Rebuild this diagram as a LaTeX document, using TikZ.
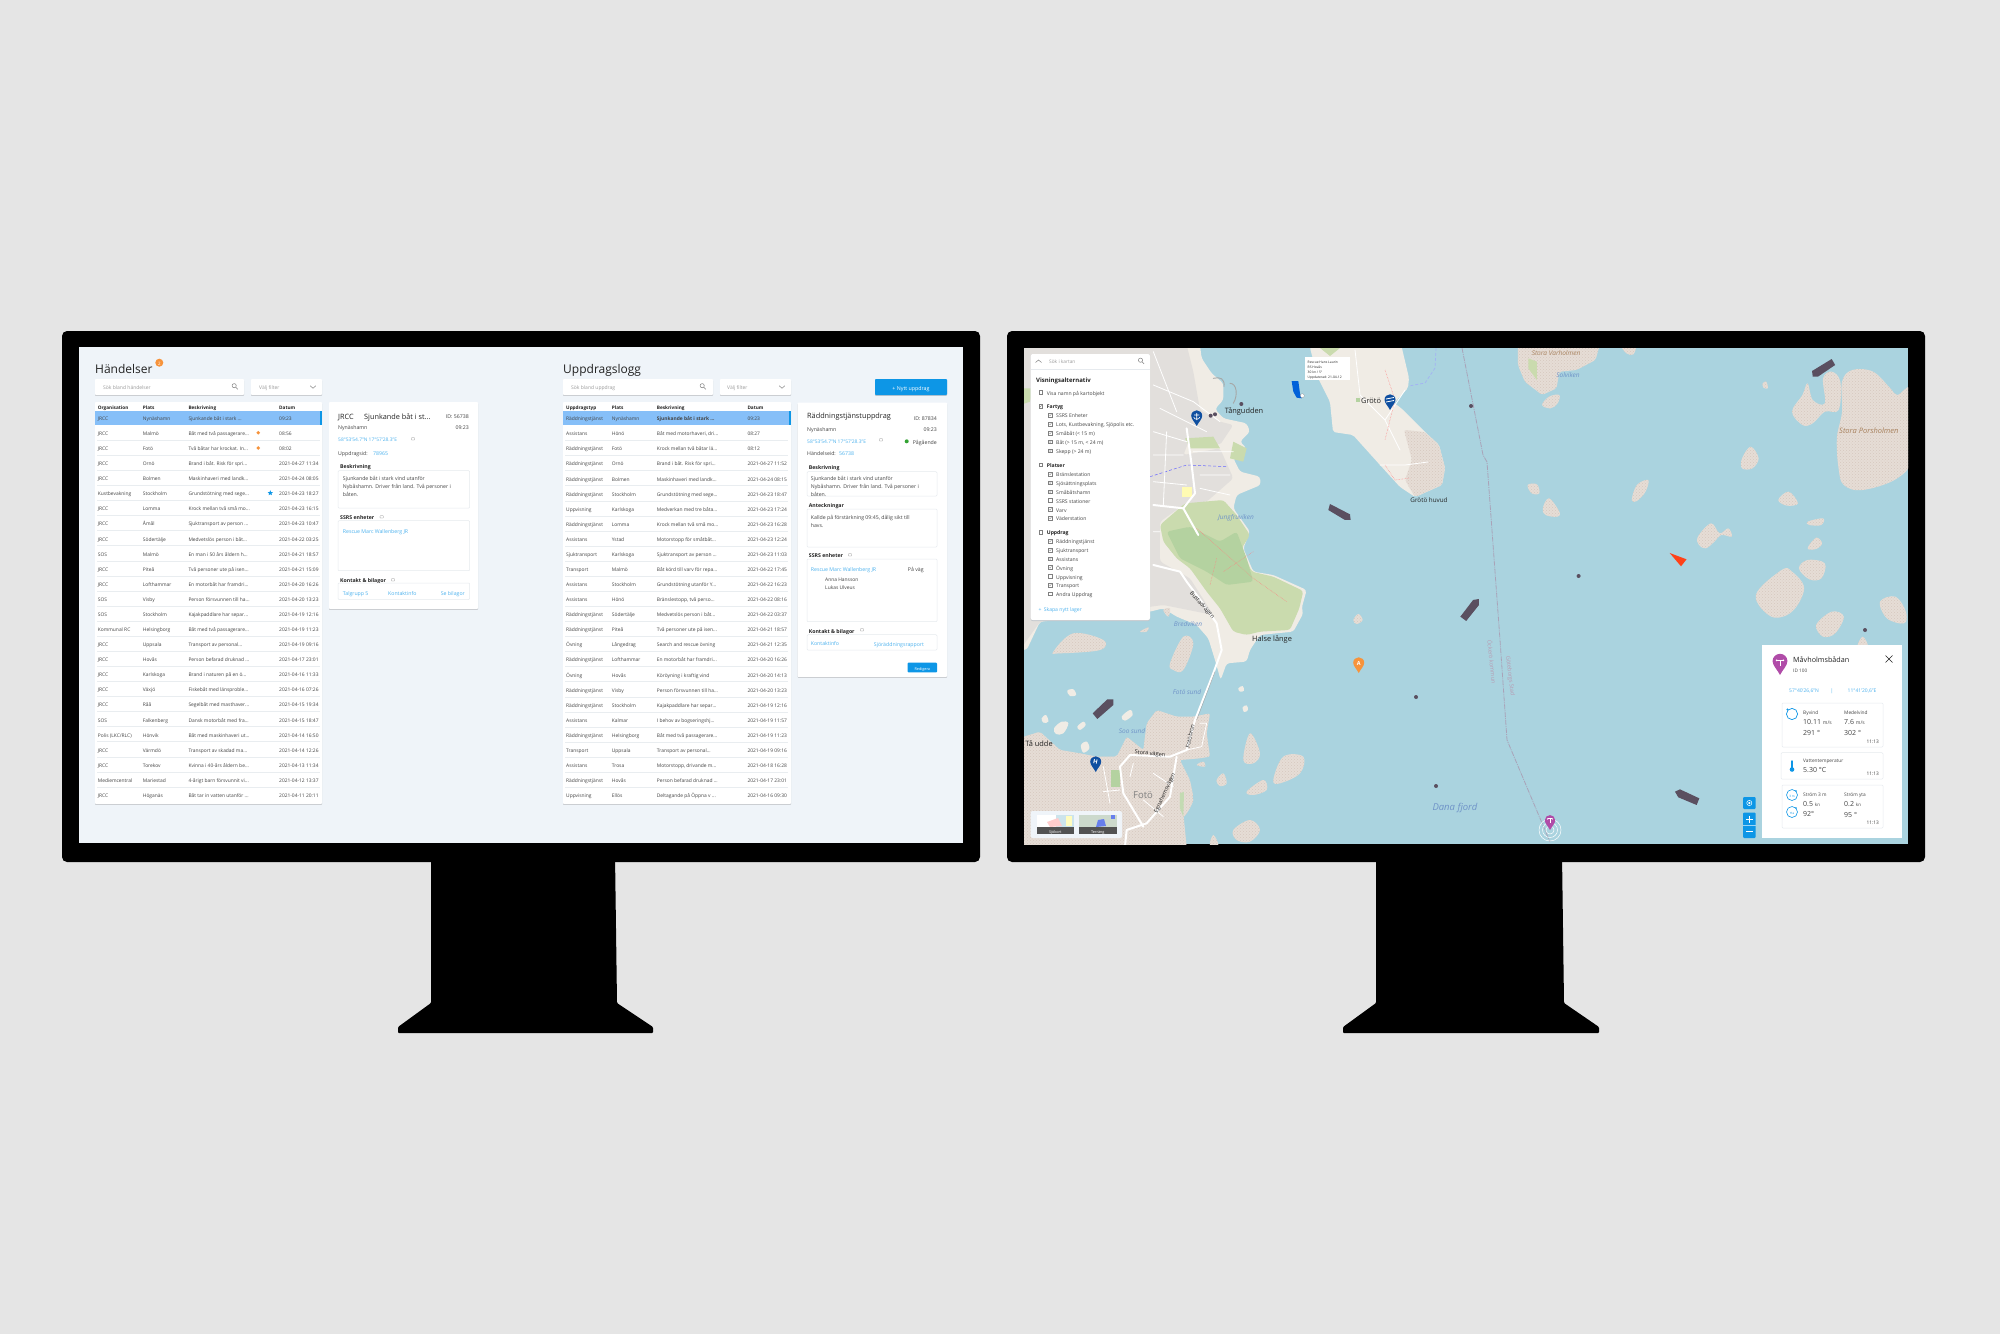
\documentclass[tikz,border=0pt]{standalone}
\usepackage{fontspec}
\setmainfont{Open Sans}
\usetikzlibrary{shapes.geometric,patterns}
\definecolor{pagebg}{HTML}{E5E5E5}
\definecolor{screenbg}{HTML}{EFF4F9}
\definecolor{linkc}{HTML}{4DB2EE}
\definecolor{btn}{HTML}{0D96E6}
\definecolor{sel}{HTML}{86BFF8}
\definecolor{txt}{HTML}{444444}
\definecolor{dark}{HTML}{222222}
\definecolor{hint}{HTML}{9A9A9A}
\definecolor{sepc}{HTML}{E9EDF0}
\definecolor{edgec}{HTML}{E6EAEE}
\definecolor{shadowc}{HTML}{C4C8CC}
\definecolor{water}{HTML}{AAD3DF}
\definecolor{landc}{HTML}{F0ECE5}
\definecolor{urban}{HTML}{E2DFDC}
\definecolor{isle}{HTML}{E6DDD6}
\definecolor{isled}{HTML}{D6C8BE}
\definecolor{forest}{HTML}{CADBAE}
\definecolor{forestb}{HTML}{B4D2A0}
\definecolor{ship}{HTML}{5A4F60}
\definecolor{pinb}{HTML}{0F4FA0}
\definecolor{pinp}{HTML}{B04CA8}
\definecolor{pino}{HTML}{F7933B}
\definecolor{bound}{HTML}{A9A3B8}
\definecolor{boundt}{HTML}{B79BB2}
\definecolor{wname}{HTML}{6F93C8}
\definecolor{bname}{HTML}{A8825E}
\newcommand\fs[1]{\fontsize{#1}{#1}\selectfont}
\tikzset{
  lbl/.style={anchor=west,inner sep=0pt,text=txt,font=\fs{5.2},text height=.72em,text depth=.18em},
  rlbl/.style={lbl,anchor=east},
  clbl/.style={lbl,anchor=center},
  cell/.style={lbl,font=\fs{4.9}},
  head/.style={lbl,font=\bfseries\fs{4.7},text=dark},
  link/.style={text=linkc},
  sect/.style={lbl,font=\bfseries\fs{5.2},text=dark},
  hintt/.style={lbl,text=hint,font=\fs{5}},
  boxc/.style={draw=edgec,line width=.5pt,fill=white,rounded corners=1pt},
  place/.style={inner sep=0pt,text=dark,font=\fs{7.4}},
  wlabel/.style={inner sep=0pt,text=wname,font=\itshape\fs{6.5}},
  road/.style={draw=white,line width=2pt,line cap=round,line join=round},
  minor/.style={draw=white,line width=.8pt,line cap=round,line join=round},
  ck/.style={draw=gray,line width=.3pt},
  speck/.style={pattern=crosshatch dots,pattern color=isled},
}
\newcount\rownr
\newcommand\colA{0}\newcommand\colB{0}\newcommand\colC{0}\newcommand\colD{0}\newcommand\rowy{0}\newcommand\sepL{0}\newcommand\sepR{0}
\newcommand\trow[4]{%
  \pgfmathsetmacro\ry{\rowy+15.08*\the\rownr}%
  \pgfmathsetmacro\rs{\ry+7.5}%
  \ifnum\rownr<25 \ifnum\rownr>0 \draw[sepc,line width=.8pt] (\sepL,\rs) -- (\sepR,\rs);\fi\fi
  \node[cell] at (\colA,\ry) {#1};
  \node[cell] at (\colB,\ry) {#2};
  \node[cell] at (\colC,\ry) {#3};
  \node[cell] at (\colD,\ry) {#4};
  \global\advance\rownr by 1\relax}
\newcommand\card[4]{%
  \fill[shadowc,rounded corners=.8pt] (#1,#2+.9) rectangle (#3,#4+.9);
  \fill[white,rounded corners=.8pt] (#1,#2) rectangle (#3,#4);}
\newcommand\searchicon[2]{%
  \draw[gray,line width=.5pt] (#1-.8,#2-.8) circle (2.1);
  \draw[gray,line width=.6pt] (#1+.8,#2+.8) -- (#1+2.8,#2+2.8);}
\newcommand\chev[2]{\draw[gray,line width=.5pt] (#1-2.8,#2-1.3) -- (#1,#2+1.3) -- (#1+2.8,#2-1.3);}
\newcommand\cmt[2]{\draw[gray,line width=.25pt,rounded corners=.3pt] (#1-1.6,#2-1.2) rectangle (#1+1.6,#2+1);}
\newcommand\cbon[2]{\draw[ck,fill=white] (#1-1.8,#2-1.8) rectangle (#1+1.8,#2+1.8);
  \draw[ck] (#1-1,#2) -- (#1-.2,#2+.9) -- (#1+1.1,#2-1);}
\newcommand\cboff[2]{\draw[ck,fill=white] (#1-1.8,#2-1.8) rectangle (#1+1.8,#2+1.8);}
\newcommand\pinat[4]{\begin{scope}[shift={(#1,#2)},x=#4pt,y=-#4pt]
  \fill[#3] (0,0) .. controls (-2,-4) and (-5.5,-7) .. (-5.5,-10.3) .. controls (-5.5,-13.5) and (-2.8,-15.7) .. (0,-15.7) .. controls (2.8,-15.7) and (5.5,-13.5) .. (5.5,-10.3) .. controls (5.5,-7) and (2,-4) .. (0,0) -- cycle;
  \end{scope}}
\newcommand\tee[3]{\begin{scope}[shift={(#1,#2)},x=#3pt,y=-#3pt]
  \draw[white,line width=.9pt] (-3,-2) -- (3,-2) (0,-2) -- (0,3);
  \fill[white] (-3,-2) circle (.9) (3,-2) circle (.9);\end{scope}}
\newcommand\shipp[1]{\fill[ship,line join=round] #1;}
\newcommand\darkdot[2]{\fill[ship] (#1,#2) circle (2);}
\newcommand\islet[1]{\fill[isle] plot[smooth cycle,tension=.6] coordinates {#1};\fill[speck] plot[smooth cycle,tension=.6] coordinates {#1};}
\newcommand\isleP[1]{\fill[isle,rounded corners=2pt] #1;\fill[speck,rounded corners=2pt] #1;}
\newcommand\pale[1]{\fill[landc] plot[smooth cycle,tension=.6] coordinates {#1};}
\begin{document}
\begin{tikzpicture}[x=1pt,y=-1pt]
\useasboundingbox (0,0) rectangle (2000,1334);
\fill[pagebg] (0,0) rectangle (2000,1334);
% ---- monitors
\fill[black,rounded corners=5pt] (62,331) rectangle (980,862);
\fill[black,rounded corners=1pt] (431,855) -- (615,855) -- (617,1003) -- (653,1027) -- (653,1033) -- (398,1033) -- (398,1027) -- (431,1003) -- cycle;
\fill[black,rounded corners=5pt] (1007,331) rectangle (1925,862);
\fill[black,rounded corners=1pt] (1376,855) -- (1562,855) -- (1564,1003) -- (1599,1027) -- (1599,1033) -- (1343,1033) -- (1343,1027) -- (1376,1003) -- cycle;
% ---- left screen
\fill[screenbg] (79,347) rectangle (963,843);
\node[lbl,font=\fs{12},text=dark] at (95,371) {Händelser};
\fill[pino] (159.3,362.7) circle (4);
\node[clbl,font=\fs{4.5},text=white] at (159.3,362.7) {2};
\card{95}{379}{244}{395}
\node[hintt] at (103,387) {Sök bland händelser};
\searchicon{235}{386.5}
\card{251}{379}{322}{395}
\node[hintt] at (259,387) {Välj filter};
\chev{313}{387}
\card{95}{402}{322}{804}
\fill[sel] (95,411) rectangle (322,425);
\fill[btn] (320,411) rectangle (322,425);
\renewcommand\colA{97.7}\renewcommand\colB{142.7}\renewcommand\colC{188.3}\renewcommand\colD{279}
\renewcommand\rowy{417.7}\renewcommand\sepL{97}\renewcommand\sepR{320}
\node[head] at (97.7,406.3) {Organisation};
\node[head] at (142.7,406.3) {Plats};
\node[head] at (188.3,406.3) {Beskrivning};
\node[head] at (279,406.3) {Datum};
\rownr=0
\trow{JRCC}{Nynäshamn}{Sjunkande båt i stark ...}{09:23}
\trow{JRCC}{Malmö}{Båt med två passagerare...}{08:56}
\trow{JRCC}{Fotö}{Två båtar har krockat. In...}{08:02}
\trow{JRCC}{Ornö}{Brand i båt. Risk för spri...}{2021-04-27 11:34}
\trow{JRCC}{Bolmen}{Maskinhaveri med landk...}{2021-04-24 08:05}
\trow{Kustbevakning}{Stockholm}{Grundstötning med sege...}{2021-04-23 18:27}
\trow{JRCC}{Lomma}{Krock mellan två små mo...}{2021-04-23 16:15}
\trow{JRCC}{Åmål}{Sjuktransport av person ...}{2021-04-23 10:47}
\trow{JRCC}{Södertälje}{Medvetslös person i båt...}{2021-04-22 03:25}
\trow{SOS}{Malmö}{En man i 50 års åldern h...}{2021-04-21 18:57}
\trow{JRCC}{Piteå}{Två personer ute på isen...}{2021-04-21 15:09}
\trow{JRCC}{Lofthammar}{En motorbåt har framdri...}{2021-04-20 16:26}
\trow{SOS}{Visby}{Person försvunnen till ha...}{2021-04-20 13:23}
\trow{SOS}{Stockholm}{Kajakpaddlare har separ...}{2021-04-19 12:16}
\trow{Kommunal RC}{Helsingborg}{Båt med två passagerare...}{2021-04-19 11:23}
\trow{JRCC}{Uppsala}{Transport av personal...}{2021-04-19 09:16}
\trow{JRCC}{Hovås}{Person befarad druknad ...}{2021-04-17 23:01}
\trow{JRCC}{Karlskoga}{Brand i naturen på en ö...}{2021-04-16 11:33}
\trow{JRCC}{Växjö}{Fiskebåt med länsproble...}{2021-04-16 07:26}
\trow{JRCC}{Råå}{Segelbåt med masthaver...}{2021-04-15 19:34}
\trow{SOS}{Falkenberg}{Dansk motorbåt med fra...}{2021-04-15 18:47}
\trow{Polis (LKC/RLC)}{Hönvik}{Båt med maskinhaveri ut...}{2021-04-14 16:50}
\trow{JRCC}{Värmdö}{Transport av skadad ma...}{2021-04-14 12:26}
\trow{JRCC}{Torekov}{Kvinna i 40-års åldern be...}{2021-04-13 11:34}
\trow{Mediemcentral}{Mariestad}{4-årigt barn försvunnit vi...}{2021-04-12 13:37}
\trow{JRCC}{Höganäs}{Båt tar in vatten utanför ...}{2021-04-11 20:11}
\fill[pino] (258.3,432.7) circle (1.9) (258.3,448) circle (1.9);
\node[star,star points=5,star point ratio=2.2,fill=btn,minimum size=5.5pt,inner sep=0pt] at (270.3,493) {};
% left detail card
\card{329}{402}{478}{609}
\node[lbl,font=\fs{7.3},text=dark] at (338,417) {JRCC};
\node[lbl,font=\fs{7.3},text=dark] at (364,417) {Sjunkande båt i st...};
\node[rlbl] at (469,416) {ID: 56738};
\node[lbl] at (338,427) {Nynäshamn};
\node[rlbl] at (469,427) {09:23};
\node[lbl,link,font=\fs{4.9}] at (338,439) {58°53'54.7"N 17°57'28.3"E};
\cmt{413}{439}
\node[lbl] at (338,452.3) {Uppdragsid:};
\node[lbl,link] at (373,452.3) {78965};
\node[sect] at (340,466) {Beskrivning};
\draw[boxc] (338,470.7) rectangle (469.7,508);
\node[lbl] at (342.7,477.5) {Sjunkande båt i stark vind utanför};
\node[lbl] at (342.7,485.5) {Nybåshamn. Driver från land. Två personer i};
\node[lbl] at (342.7,493.5) {båten.};
\node[sect] at (340,517) {SSRS enheter};
\cmt{381.7}{517}
\draw[boxc] (338,520.7) rectangle (469.7,570.7);
\node[lbl,link] at (342.7,530.3) {Rescue Marc Wallenberg JR};
\node[sect] at (340,579.3) {Kontakt \& bilagor};
\cmt{393}{580}
\draw[boxc] (338,583) rectangle (469.7,599.5);
\node[lbl,link] at (342.7,592.3) {Talgrupp 5};
\node[lbl,link] at (388,592.3) {Kontaktinfo};
\node[rlbl,link] at (465,592.3) {Se bilagor};
% ---- middle section
\node[lbl,font=\fs{12},text=dark] at (563,371) {Uppdragslogg};
\card{563}{379}{713}{395}
\node[hintt] at (571,387) {Sök bland uppdrag};
\searchicon{703}{386.5}
\card{720}{379}{791}{395}
\node[hintt] at (727,387) {Välj filter};
\chev{782}{387}
\fill[shadowc,rounded corners=.8pt] (875,379.9) rectangle (947,395.9);
\fill[btn,rounded corners=.8pt] (875,379) rectangle (947,395);
\node[clbl,text=white,font=\fs{5.3}] at (911,387.3) {+ Nytt uppdrag};
\card{563}{402}{791}{804}
\fill[sel] (563,411) rectangle (791,425.3);
\fill[btn] (789,411) rectangle (791,425.3);
\renewcommand\colA{566}\renewcommand\colB{611.7}\renewcommand\colC{656.7}\renewcommand\colD{747.3}
\renewcommand\rowy{418}\renewcommand\sepL{565}\renewcommand\sepR{788}
\node[head] at (566,406.7) {Uppdragstyp};
\node[head] at (611.7,406.7) {Plats};
\node[head] at (656.7,406.7) {Beskrivning};
\node[head] at (747.3,406.7) {Datum};
\rownr=0
\trow{Räddningstjänst}{Nynäshamn}{\bfseries Sjunkande båt i stark ...}{09:23}
\trow{Assistans}{Hönö}{Båt med motorhaveri, dri...}{08:27}
\trow{Räddningstjänst}{Fotö}{Krock mellan två båtar lä...}{08:12}
\trow{Räddningstjänst}{Ornö}{Brand i båt. Risk för spri...}{2021-04-27 11:52}
\trow{Räddningstjänst}{Bolmen}{Maskinhaveri med landk...}{2021-04-24 08:15}
\trow{Räddningstjänst}{Stockholm}{Grundstötning med sege...}{2021-04-23 18:47}
\trow{Uppvisning}{Karlskoga}{Medverkan med tre båta...}{2021-04-23 17:24}
\trow{Räddningstjänst}{Lomma}{Krock mellan två små mo...}{2021-04-23 16:28}
\trow{Assistans}{Ystad}{Motorstopp för småtbåt...}{2021-04-23 12:24}
\trow{Sjuktransport}{Karlskoga}{Sjuktransport av person ...}{2021-04-23 11:03}
\trow{Transport}{Malmö}{Båt körd till varv för repa...}{2021-04-22 17:45}
\trow{Assistans}{Stockholm}{Grundstötning utanför Y...}{2021-04-22 16:23}
\trow{Assistans}{Hönö}{Bränslestopp, två perso...}{2021-04-22 08:16}
\trow{Räddningstjänst}{Södertälje}{Medvetslös person i båt...}{2021-04-22 03:37}
\trow{Räddningstjänst}{Piteå}{Två personer ute på isen...}{2021-04-21 18:57}
\trow{Övning}{Långedrag}{Search and rescue övning}{2021-04-21 12:35}
\trow{Räddningstjänst}{Lofthammar}{En motorbåt har framdri...}{2021-04-20 16:26}
\trow{Övning}{Hovås}{Köröyning i kraftig vind}{2021-04-20 14:13}
\trow{Räddningstjänst}{Visby}{Person försvunnen till ha...}{2021-04-20 13:23}
\trow{Räddningstjänst}{Stockholm}{Kajakpaddlare har separ...}{2021-04-19 12:16}
\trow{Assistans}{Kalmar}{I behov av bogseringshj...}{2021-04-19 11:57}
\trow{Räddningstjänst}{Helsingborg}{Båt med två passagerare...}{2021-04-19 11:23}
\trow{Transport}{Uppsala}{Transport av personal...}{2021-04-19 09:16}
\trow{Assistans}{Trosa}{Motorstopp, drivande m...}{2021-04-18 16:28}
\trow{Räddningstjänst}{Hovås}{Person befarad druknad ...}{2021-04-17 23:01}
\trow{Uppvisning}{Ellös}{Deltagande på Öppna v ...}{2021-04-16 09:30}
% right detail card
\card{797.7}{402.7}{947}{677}
\node[lbl,font=\fs{7.3},text=dark] at (807,416) {Räddningstjänstuppdrag};
\node[rlbl] at (937,417.3) {ID: 87834};
\node[lbl] at (807,429) {Nynäshamn};
\node[rlbl] at (937,429) {09:23};
\node[lbl,link,font=\fs{4.9}] at (807,441) {58°53'54.7"N 17°57'28.3"E};
\cmt{881}{440}
\fill[green!55!black!80] (906.7,441.3) circle (2);
\node[rlbl] at (937,441.5) {Pågående};
\node[lbl] at (807,452.5) {Händelseid:};
\node[lbl,link] at (839,452.5) {56738};
\node[sect] at (808.7,467) {Beskrivning};
\begin{scope}
\draw[boxc] (807,471.7) rectangle (937,496);
\clip (807,471.7) rectangle (937,496);
\node[lbl] at (810.7,478) {Sjunkande båt i stark vind utanför};
\node[lbl] at (810.7,486) {Nybåshamn. Driver från land. Två personer i};
\node[lbl] at (810.7,494) {båten.};
\end{scope}
\node[sect] at (808.7,505) {Anteckningar};
\draw[boxc] (807,509) rectangle (937,547);
\node[lbl] at (810.7,516.3) {Kallde på förstärkning 09:45, dålig sikt till};
\node[lbl] at (810.7,524.3) {havs.};
\node[sect] at (808.7,555) {SSRS enheter};
\cmt{850}{555}
\draw[boxc] (807,559) rectangle (937,621.7);
\node[lbl,link] at (810.7,569) {Rescue Marc Wallenberg JR};
\node[lbl] at (907.7,569) {På väg};
\node[lbl,font=\fs{4.9}] at (825,578.3) {Anna Hansson};
\node[lbl,font=\fs{4.9}] at (825,586.3) {Lukas Ulveus};
\node[sect] at (808.7,630.3) {Kontakt \& bilagor};
\cmt{862}{630}
\draw[boxc] (807,634.7) rectangle (937,650);
\node[lbl,link] at (810.7,642.7) {Kontaktinfo};
\node[lbl,link] at (873.7,643.5) {Sjöräddningsrapport};
\fill[btn,rounded corners=.8pt] (907.7,662.7) rectangle (937,672.3);
\node[clbl,text=white,font=\fs{3.8}] at (922.3,667.5) {Redigera};
% ---- map
\begin{scope}
\clip (1024,348) rectangle (1908,844);
\fill[water] (1024,348) rectangle (1908,844);
% west land, zoom-7 space
\begin{scope}[shift={(1020,345)},x=.3333pt,y=-.3333pt]
\fill[landc,rounded corners=3pt] (0,0) -- (540,0) -- (545,40) -- (575,85) -- (610,115) -- (610,165) -- (585,192) -- (610,220) -- (680,235) -- (690,260) -- (660,290) -- (680,310) -- (640,340) -- (660,380) -- (720,395) -- (722,420) -- (650,450) -- (640,490) -- (690,560) -- (670,610) -- (700,680) -- (760,690) -- (860,735) -- (845,790) -- (850,805) -- (820,860) -- (720,870) -- (690,915) -- (680,950) -- (620,955) -- (602,1005) -- (585,945) -- (565,880) -- (530,840) -- (470,815) -- (430,790) -- (390,800) -- (60,830) -- (20,915) -- (0,915) -- cycle;
\fill[urban,rounded corners=3pt] (0,0) -- (500,0) -- (520,80) -- (540,195) -- (600,230) -- (640,240) -- (600,300) -- (510,280) -- (490,330) -- (600,310) -- (640,400) -- (560,470) -- (490,480) -- (420,530) -- (420,650) -- (510,700) -- (580,810) -- (430,780) -- (60,830) -- (0,915) -- cycle;
\fill[forest,rounded corners=3pt] (420,540) -- (495,475) -- (610,465) -- (650,510) -- (690,570) -- (665,610) -- (695,680) -- (760,695) -- (850,738) -- (838,790) -- (810,855) -- (720,860) -- (680,870) -- (640,860) -- (600,790) -- (560,740) -- (510,670) -- (470,640) -- (430,590) -- cycle;
\fill[forestb,rounded corners=3pt] (440,560) -- (510,545) -- (600,590) -- (650,560) -- (680,640) -- (700,710) -- (620,720) -- (560,680) -- (480,640) -- cycle;
\fill[forest] (495,280) -- (580,275) -- (600,310) -- (510,310) -- cycle;
\fill[forest] (640,290) -- (680,310) -- (670,350) -- (630,340) -- cycle;
\fill[forest] (0,130) -- (40,130) -- (30,170) -- (0,180) -- cycle;
\fill[yellow!30] (485,425) rectangle (515,455);
\fill[urban] (530,340) rectangle (590,365);
\draw[red!50,densely dotted,line width=.5pt] (530,550) -- (610,620) -- (700,700) -- (800,770) (590,640) -- (570,720) (700,620) -- (610,680);
\draw[blue!60,densely dashed,line width=.5pt] (390,395) -- (500,360) -- (620,365);
% roads
\draw[road] (490,490) -- (400,480);
\draw[road] (490,490) -- (525,445) -- (515,360) -- (500,250);
\draw[road] (490,490) -- (535,570);
\draw[road] (400,660) -- (480,680) -- (500,710) -- (545,770) -- (590,835) -- (605,915) -- (580,985);
\draw[minor] (400,120) -- (520,170) -- (600,230) (420,190) -- (560,260) (400,260) -- (500,290) (400,330) -- (490,330) (400,410) -- (500,420) (440,260) -- (430,480) (520,320) -- (640,320) (540,390) -- (630,390) (540,430) -- (630,450) (400,20) -- (470,200) (400,560) -- (420,560);
% Breakwaters
\draw[gray!70,line width=.9pt,line cap=round] (580,100) .. controls (600,95) and (615,100) .. (612,125);
\draw[gray!70,line width=.9pt,line cap=round] (630,115) .. controls (650,115) and (655,150) .. (640,175);
\end{scope}
% Grötö
\fill[landc,rounded corners=2pt] (1310,340) -- (1310,348) -- (1318,378) -- (1330,402) -- (1333,432) -- (1353,435) -- (1380,465) -- (1400,487) -- (1415,497) -- (1442,485) -- (1445,468) -- (1439,445) -- (1425,432) -- (1401,408) -- (1394,403) -- (1408,388) -- (1409,378) -- (1400,340) -- cycle;
\isleP{(1404,430) -- (1425,432) -- (1439,445) -- (1445,468) -- (1442,485) -- (1415,497) -- (1405,480) -- (1412,460) -- cycle}
\draw[minor] (1355,350) -- (1360,395) -- (1385,420) -- (1400,450) (1405,390) -- (1385,420) (1380,465) -- (1405,465) -- (1428,462);
\draw[red!50,densely dotted,line width=.5pt] (1385,370) -- (1395,400) -- (1385,440) (1385,465) -- (1395,480) -- (1410,478);
\fill[forestb] (1356,398) rectangle (1360,402);
\fill[forest] (1320,348) -- (1340,348) -- (1330,356) -- cycle;
% islands east, zoom-10 space
\begin{scope}[shift={(1380,345)},x=.3448pt,y=-.3333pt]
\isleP{(400,-10) -- (640,-10) -- (625,45) -- (570,75) -- (520,80) -- (512,130) -- (470,150) -- (420,110) -- (400,60) -- cycle}
\fill[forest] (430,40) -- (455,50) -- (455,105) -- (430,70) -- cycle;
\islet{(490,155) (520,150) (515,175) (495,190) (470,180)}
\islet{(700,0) (740,0) (735,28) (715,25)}
\islet{(1370,75) (1430,80) (1480,130) (1500,150) (1545,135) (1545,330) (1500,400) (1400,435) (1345,420) (1330,370) (1325,280) (1340,200) (1340,110)}
\islet{(1240,115) (1255,165) (1290,175) (1285,100) (1310,80) (1335,110) (1330,195) (1290,200) (1255,235) (1225,240) (1195,200) (1225,150)}
\islet{(1050,340) (1075,305) (1098,340) (1080,370) (1050,370)}
\islet{(1155,465) (1185,440) (1212,475) (1180,482)}
\islet{(1240,530) (1285,520) (1280,540) (1245,540)}
\islet{(1240,610) (1265,578) (1282,595) (1265,612)}
\islet{(1215,670) (1240,645) (1290,655) (1280,700) (1245,703)}
\islet{(1090,750) (1165,675) (1195,680) (1230,730) (1195,800) (1135,815)}
\islet{(1265,840) (1310,800) (1345,815) (1320,865) (1285,875)}
\islet{(1450,770) (1495,755) (1525,800) (1520,835) (1470,820)}
\islet{(1385,905) (1400,875) (1415,905)}
\islet{(428,420) (455,418) (462,445) (440,445)}
\islet{(472,490) (490,460) (520,500) (515,515) (480,510)}
\islet{(730,465) (745,420) (778,405) (770,440) (745,468)}
\islet{(922,575) (960,535) (985,565) (1010,550) (1020,575) (990,570) (970,590) (945,610) (925,600)}
\islet{(1110,115) (1120,110) (1125,130) (1112,128)}
\end{scope}
% south islands and Fotö, zoom-8 space
\begin{scope}[shift={(1020,600)},x=.3333pt,y=-.3333pt]
\isleP{(-20,420) -- (60,395) -- (120,450) -- (180,460) -- (230,470) -- (290,470) -- (320,410) -- (370,450) -- (380,370) -- (410,330) -- (470,350) -- (520,350) -- (570,340) -- (560,400) -- (570,470) -- (540,475) -- (480,480) -- (510,540) -- (520,590) -- (490,640) -- (500,740) -- (-20,740) -- cycle}
\islet{(100,155) (160,100) (250,120) (240,150) (120,160)}
\islet{(450,190) (490,110) (520,130) (490,210) (460,210)}
\islet{(1000,60) (1015,42) (1028,60) (1010,72)}
\islet{(670,480) (690,400) (720,460) (700,490)}
\islet{(760,540) (790,470) (850,470) (840,520) (780,550)}
\islet{(680,575) (730,540) (740,570) (700,585)}
\islet{(640,690) (690,660) (720,690) (690,725) (650,720)}
\islet{(570,735) (580,705) (595,735)}
\islet{(530,495) (550,485) (555,500)}
\islet{(590,540) (610,520) (620,550) (600,558)}
\islet{(485,590) (500,580) (520,600) (490,650)}
\islet{(430,30) (450,25) (445,50)}
\islet{(360,95) (385,82) (380,95)}
\pale{(142,272) (160,268) (168,285) (150,288)}
\pale{(102,385) (125,365) (145,370) (130,400) (108,402)}
\pale{(172,380) (190,365) (197,375) (180,390)}
\pale{(183,435) (200,425) (208,445) (190,458)}
\pale{(305,350) (330,330) (338,345) (315,362)}
\pale{(65,355) (78,345) (85,365) (70,368)}
\pale{(655,265) (668,258) (672,272) (660,275)}
\pale{(668,322) (680,316) (684,330) (672,336)}
\fill[forestb!80] (480,580) -- (492,575) -- (490,650) -- (480,625) -- cycle;
\fill[forestb] (272,510) rectangle (300,562);
\draw[road] (580,220) -- (525,360) -- (500,450) -- (450,470) -- (330,465) -- (300,500) -- (310,580) -- (370,680);
\draw[road] (470,470) -- (450,590) -- (380,670) -- (320,690) -- (315,740);
\draw[minor] (540,370) -- (560,370) -- (545,440) -- (500,450) (250,500) -- (270,610) (300,570) -- (250,575) (340,490) -- (330,530) (400,520) -- (460,560) (370,600) -- (430,650);
\draw[gray!70,line width=.4pt] (585,215) -- (530,360);
\end{scope}
% boundary and ferry lines
\draw[bound,line width=.8pt,dash pattern=on 5pt off 1pt on 1pt off 1pt] (1462,348) -- (1483,455) -- (1487,462) -- (1500,640) -- (1507,740) -- (1550,842);
\draw[blue!40!water!60!white,densely dashed,line width=.7pt] (1436,348) -- (1435,368) -- (1425,383) -- (1409,386);
% places
\node[place] at (1244,411) {Tångudden};
\node[place,anchor=west] at (1361,401) {Grötö};
\node[place,font=\fs{6.3}] at (1429,500) {Grötö huvud};
\node[place] at (1272,639) {Halse långe};
\node[place] at (1039,744) {Tå udde};
\node[place,font=\fs{9.5},text=gray] at (1143,795) {Fotö};
\node[wlabel] at (1236,518) {Jungfruviken};
\node[wlabel] at (1188,624) {Bredviken};
\node[wlabel] at (1187,692) {Fotö sund};
\node[wlabel] at (1132,731) {Soo sund};
\node[wlabel,font=\itshape\fs{9.5}] at (1455,808) {Dana fjord};
\node[wlabel] at (1568,375) {Solviken};
\node[wlabel,text=bname] at (1556,353) {Stora Varholmen};
\node[wlabel,text=bname,font=\itshape\fs{7.5},anchor=west] at (1839,431) {Stora Porsholmen};
\node[place,font=\fs{5.6},rotate=-48] at (1202,605) {Bustadvägen};
\node[place,font=\fs{5.6},rotate=-6] at (1150,754) {Stora vägen};
\node[place,font=\fs{5.6},rotate=78] at (1190,736) {Fotöbron};
\node[place,font=\fs{5.6},rotate=65] at (1165,793) {Egnahemsvägen};
\node[place,font=\fs{5.6},text=boundt,rotate=-84] at (1492,662) {Öckerö kommun};
\node[place,font=\fs{5.6},text=boundt,rotate=-83] at (1510,676) {Göteborgs Stad};
% ships
\begin{scope}[shift={(1020,345)},x=.3333pt,y=-.3333pt]
\shipp{(930,477) -- (990,508) -- (992,525) -- (975,525) -- (925,495) -- cycle}
\fill[blue!55!cyan!85!black] (815,108) -- (835,108) -- (840,145) -- (845,160) -- (830,158) -- (820,140) -- cycle;
\fill[white,draw=gray,line width=.2pt] (847,152) circle (6);
\end{scope}
\begin{scope}[shift={(1020,600)},x=.3333pt,y=-.3333pt]
\shipp{(218,340) -- (262,298) -- (280,298) -- (280,315) -- (232,357) -- cycle}
\end{scope}
\begin{scope}[shift={(1380,345)},x=.3448pt,y=-.3333pt]
\shipp{(233,815) -- (270,765) -- (287,762) -- (287,780) -- (250,828) -- cycle}
\shipp{(1253,78) -- (1310,42) -- (1320,60) -- (1270,95) -- (1255,95) -- cycle}
\fill[red!65!orange!90] (840,624) -- (889,643) -- (873,664) -- cycle;
\end{scope}
\begin{scope}[shift={(1380,640)},x=.3333pt,y=-.3333pt]
\shipp{(885,455) -- (900,448) -- (958,475) -- (950,495) -- (895,472) -- cycle}
\end{scope}
\darkdot{1471}{406}
\darkdot{1578.6}{576}
\darkdot{1865}{630}
\darkdot{1416}{697}
\darkdot{1436}{786}
\darkdot{1210.7}{415.7}
\darkdot{1215}{414.3}
\darkdot{1241.3}{404}
% info label
\fill[white] (1305,357) rectangle (1350,380);
\node[lbl,font=\fs{3.3},text=dark] at (1307.5,360.5) {Rescue Hans Laurin};
\node[lbl,font=\fs{3.3},text=dark] at (1307.5,365.5) {RS Hovås};
\node[lbl,font=\fs{3.3},text=dark] at (1307.5,370.5) {30 kn / 5°};
\node[lbl,font=\fs{3.3},text=dark] at (1307.5,375.5) {Uppdaterad: 21-04-12};
% pins
\pinat{1196.7}{426}{pinb}{1}
\draw[white,line width=.6pt] (1196.7,413) -- (1196.7,420) (1194,415) -- (1199.4,415) (1193.7,417) .. controls (1194,420) and (1199.4,420) .. (1199.7,417);
\pinat{1095.7}{772}{pinb}{1}
\node[clbl,text=white,font=\bfseries\fs{6},rotate=-10] at (1095.7,761.5) {H};
\pinat{1390}{410}{pinb}{1}
\draw[white,line width=.8pt] (1386,399) -- (1394,397.5) (1386,402) -- (1394,400.5);
\pinat{1358.7}{673}{pino}{1}
\node[clbl,text=white,font=\bfseries\fs{5.5}] at (1358.7,662.5) {A};
\draw[white,line width=.5pt] (1550,830) circle (4) (1550,830) circle (7.5) (1550,830) circle (11);
\pinat{1550}{830}{pinp}{.95}
\tee{1550}{820.5}{.8}
% layer switcher
\fill[screenbg,rounded corners=2pt] (1030.7,811) rectangle (1122,838);
\fill[white] (1036.7,815) rectangle (1074,834);
\fill[water!60!white] (1056,815) rectangle (1074,827);
\fill[red!20] (1047,822) -- (1058,818) -- (1062,826) -- (1050,827) -- cycle;
\fill[yellow!25] (1066,816) rectangle (1072,826);
\fill[black!68] (1036.7,827.3) rectangle (1074,834);
\node[clbl,text=white,font=\fs{3.8}] at (1055.3,830.8) {Sjökort};
\fill[green!15!gray!35] (1079,815) rectangle (1116.7,834);
\fill[blue!40!water] (1098,820) -- (1104,819) -- (1106,826) -- (1096,827) -- cycle;
\fill[blue!40!water] (1111,815) rectangle (1115,819);
\fill[black!68] (1079,827.3) rectangle (1116.7,834);
\node[clbl,text=white,font=\fs{3.8}] at (1097.8,830.8) {Terräng};
% map options panel
\fill[shadowc,rounded corners=2pt] (1030.7,354) rectangle (1150,621);
\fill[white,rounded corners=2pt] (1030.7,354) rectangle (1150,620);
\draw[edgec,line width=.4pt] (1030.7,369) -- (1150,369);
\draw[gray,line width=.5pt] (1035.5,362.5) -- (1038.5,360) -- (1041.5,362.5);
\node[hintt,font=\fs{4.8}] at (1049,361) {Sök i kartan};
\searchicon{1141.3}{361}
\node[sect,font=\bfseries\fs{6}] at (1036,380) {Visningsalternativ};
\cboff{1040.7}{392.3}
\node[lbl,font=\fs{5.1}] at (1046.7,392.3) {Visa namn på kartobjekt};
\cbon{1040.7}{406}
\node[sect,font=\bfseries\fs{5.1}] at (1046.7,406) {Fartyg};
\foreach \yy/\lab in {415/SSRS Enheter,424/{Lots, Kustbevakning, Sjöpolis etc.},433/Småbåt (< 15 m),441.7/{Båt (> 15 m, < 24 m)},450.7/Skepp (> 24 m)}{
 \cbon{1050.3}{\yy}
 \node[lbl,font=\fs{5.1}] at (1056,\yy) {\lab};}
\cboff{1040.7}{464.7}
\node[sect,font=\bfseries\fs{5.1}] at (1046.7,464.7) {Platser};
\foreach \yy/\lab in {474/Bränslestation,482.7/Sjösättningsplats,491.7/Småbåtshamn,509.3/Varv,518/Väderstation}{
 \cbon{1050.3}{\yy}
 \node[lbl,font=\fs{5.1}] at (1056,\yy) {\lab};}
\cboff{1050.3}{500.3}
\node[lbl,font=\fs{5.1}] at (1056,500.3) {SSRS stationer};
\cboff{1040.7}{532}
\node[sect,font=\bfseries\fs{5.1}] at (1046.7,532) {Uppdrag};
\foreach \yy/\lab in {541/Räddningstjänst,550/Sjuktransport,558.7/Assistans,567.3/Övning,585/Transport}{
 \cbon{1050.3}{\yy}
 \node[lbl,font=\fs{5.1}] at (1056,\yy) {\lab};}
\cboff{1050.3}{576.3}
\node[lbl,font=\fs{5.1}] at (1056,576.3) {Uppvisning};
\cboff{1050.3}{593.7}
\node[lbl,font=\fs{5.1}] at (1056,593.7) {Andra Uppdrag};
\node[lbl,link,font=\fs{5.1}] at (1038.5,609) {+ \,Skapa nytt lager};
% map controls
\fill[btn,rounded corners=1pt] (1743,797) rectangle (1755.7,809);
\draw[white,line width=.5pt] (1749.3,803) circle (2.6);
\fill[white] (1749.3,803) circle (1.2);
\fill[btn,rounded corners=1pt] (1743,812.7) rectangle (1755.7,838);
\draw[white,line width=.8pt] (1746,819.5) -- (1752.6,819.5) (1749.3,816.2) -- (1749.3,822.8) (1746,831.5) -- (1752.6,831.5);
\draw[white!60!btn,line width=.3pt] (1743,825.3) -- (1755.7,825.3);
% weather card
\fill[white] (1762,645) rectangle (1902,838);
\pinat{1780}{675}{pinp}{1.35}
\tee{1780}{662.5}{1.1}
\node[lbl,font=\fs{7.2},text=dark] at (1793,660) {Måvholmsbådan};
\node[lbl,font=\fs{4.7}] at (1793,670) {ID 100};
\draw[dark,line width=.6pt] (1885.5,655.5) -- (1892.5,662.5) (1885.5,662.5) -- (1892.5,655.5);
\node[clbl,link,font=\fs{5}] at (1804,689.3) {57°40'26,6"N};
\node[clbl,link,font=\fs{5}] at (1832,689.3) {|};
\node[clbl,link,font=\fs{5}] at (1862,689.3) {11°41'20,6"E};
\draw[boxc] (1782,703) rectangle (1883,747);
\draw[btn,line width=.7pt] (1792,714) circle (5.6);
\fill[btn] (1787.5,709.5) circle (1.1);
\node[lbl,font=\fs{4.8}] at (1803,712) {Byvind};
\node[lbl,font=\fs{7}] at (1803,722) {10.11 {\fs{5}m/s}};
\node[lbl,font=\fs{7}] at (1803,732.3) {291 °};
\node[lbl,font=\fs{4.8}] at (1844,712) {Medelvind};
\node[lbl,font=\fs{7}] at (1844,722) {7.6 {\fs{5}m/s}};
\node[lbl,font=\fs{7}] at (1844,732.3) {302 °};
\node[rlbl,font=\fs{4.8}] at (1879,740.7) {11:13};
\draw[boxc] (1781,752.7) rectangle (1883,779);
\fill[btn] (1792,769.5) circle (2.3);
\draw[btn,line width=1.5pt,line cap=round] (1792,761) -- (1792,769);
\node[lbl,font=\fs{4.8}] at (1803,760) {Vattentemperatur};
\node[lbl,font=\fs{7}] at (1803,769.3) {5.30 °C};
\node[rlbl,font=\fs{4.8}] at (1879,773) {11:13};
\draw[boxc] (1782,785) rectangle (1883,828);
\draw[btn,line width=.6pt] (1792,795) circle (5.5) (1792,812) circle (5.5);
\fill[btn] (1796,791) circle (.9) (1796,808) circle (.9);
\node[clbl,text=btn,font=\fs{3}] at (1792,795) {3 m};
\node[clbl,text=btn,font=\fs{3}] at (1792,812) {Yta};
\node[lbl,font=\fs{4.8}] at (1803,794) {Ström 3 m};
\node[lbl,font=\fs{7}] at (1803,804) {0.5 {\fs{4.5}kn}};
\node[lbl,font=\fs{7}] at (1803,814) {92°};
\node[lbl,font=\fs{4.8}] at (1844,794) {Ström yta};
\node[lbl,font=\fs{7}] at (1844,804) {0.2 {\fs{4.5}kn}};
\node[lbl,font=\fs{7}] at (1844,815) {95 °};
\node[rlbl,font=\fs{4.8}] at (1879,822) {11:13};
\end{scope}
\end{tikzpicture}
\end{document}
